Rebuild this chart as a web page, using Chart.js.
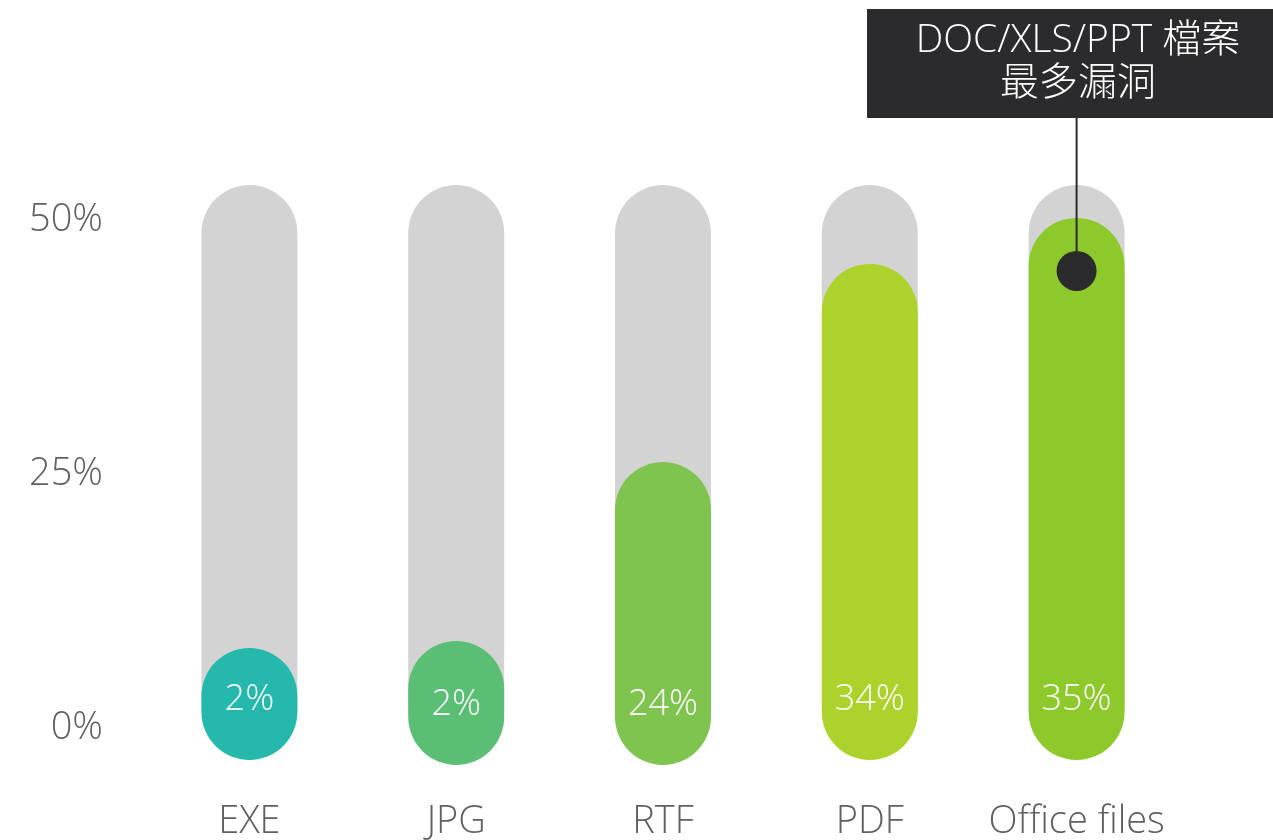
<!DOCTYPE html>
<html lang="zh-Hant">
<head>
  <meta charset="UTF-8">
  <title>檔案類型漏洞比例</title>
  <script src="https://cdn.jsdelivr.net/npm/chart.js"></script>
  <style>
    html, body { margin: 0; background: #fff; }
    #wrap { width: 1273px; height: 840px; }
  </style>
</head>
<body>
  <div id="wrap"><canvas id="chart" width="1273" height="840"></canvas></div>
  <script>
    // values
    const categories = ['EXE', 'JPG', 'RTF', 'PDF', 'Office files'];
    const shareLabels = ['2%', '2%', '24%', '34%', '35%'];
    const barBottom = [-3.15, -3.64, -3.64, -3.15, -3.15];
    const barTop = [7.87, 8.56, 26.18, 45.67, 50.2];
    const trackBottom = [-2.6, -2.6, -2.6, -2.6, -2.6];
    const trackTop = [53.44, 53.44, 53.44, 53.44, 53.44];
    const barColors = ['#25b8ac', '#5bbe75', '#80c450', '#acd22b', '#8dc92a'];
    const yTicks = [0, 25, 50];
    const calloutLines = ['DOC/XLS/PPT 檔案', '最多漏洞'];
    const calloutIndex = 4;
    const calloutValue = 44.98;

    const FONT = '"Open Sans", "Noto Sans CJK TC", sans-serif';
    const GREY_TEXT = '#606062';
    const DARK = '#2b2b2d';

    // percentage labels inside the bars + the dark callout box
    const overlay = {
      id: 'overlay',
      afterDatasetsDraw(chart) {
        const { ctx } = chart;
        const y = chart.scales.y;
        const bars = chart.getDatasetMeta(1).data;
        ctx.save();
        ctx.fillStyle = '#fff';
        ctx.font = '300 36px ' + FONT;
        ctx.textAlign = 'center';
        ctx.textBaseline = 'middle';
        bars.forEach((bar, i) => {
          ctx.fillText(shareLabels[i], bar.x, y.getPixelForValue(barBottom[i]) - 60);
        });

        const bar = bars[calloutIndex];
        const dotY = y.getPixelForValue(calloutValue);
        ctx.fillStyle = DARK;
        ctx.strokeStyle = DARK;
        ctx.fillRect(867, 9, chart.width - 867, 109);
        ctx.lineWidth = 2;
        ctx.beginPath();
        ctx.moveTo(bar.x, 118);
        ctx.lineTo(bar.x, dotY);
        ctx.stroke();
        ctx.beginPath();
        ctx.arc(bar.x, dotY, 20, 0, Math.PI * 2);
        ctx.fill();

        ctx.fillStyle = '#fff';
        ctx.font = '300 39px ' + FONT;
        ctx.fillText(calloutLines[0], 1078, 41);
        ctx.fillText(calloutLines[1], 1078, 84);
        ctx.restore();
      }
    };

    new Chart(document.getElementById('chart'), {
      type: 'bar',
      data: {
        labels: categories,
        datasets: [
          {
            data: categories.map((_, i) => [trackBottom[i], trackTop[i]]),
            backgroundColor: '#d3d3d3',
            order: 2
          },
          {
            data: categories.map((_, i) => [barBottom[i], barTop[i]]),
            backgroundColor: barColors,
            order: 1
          }
        ]
      },
      options: {
        responsive: false,
        animation: false,
        events: [],
        grouped: false,
        categoryPercentage: 1,
        barPercentage: 0.464,
        borderRadius: 48,
        borderSkipped: false,
        layout: { padding: { right: 93 } },
        plugins: {
          legend: { display: false },
          tooltip: { enabled: false }
        },
        scales: {
          x: {
            grid: { display: false },
            border: { display: false },
            ticks: {
              color: GREY_TEXT,
              font: { family: FONT, size: 38, weight: 300 },
              padding: 11
            },
            afterFit: s => { s.height = 60; }
          },
          y: {
            // chart area runs 57.8..780 px (half label + tick padding on top)
            min: -5.12,
            max: 65.96,
            grid: { display: false },
            border: { display: false },
            afterBuildTicks: s => { s.ticks = yTicks.map(v => ({ value: v })); },
            ticks: {
              color: GREY_TEXT,
              font: { family: FONT, size: 38, weight: 300 },
              padding: 35,
              callback: v => v + '%'
            },
            afterFit: s => { s.width = 146; }
          }
        }
      },
      plugins: [overlay]
    });
  </script>
</body>
</html>
